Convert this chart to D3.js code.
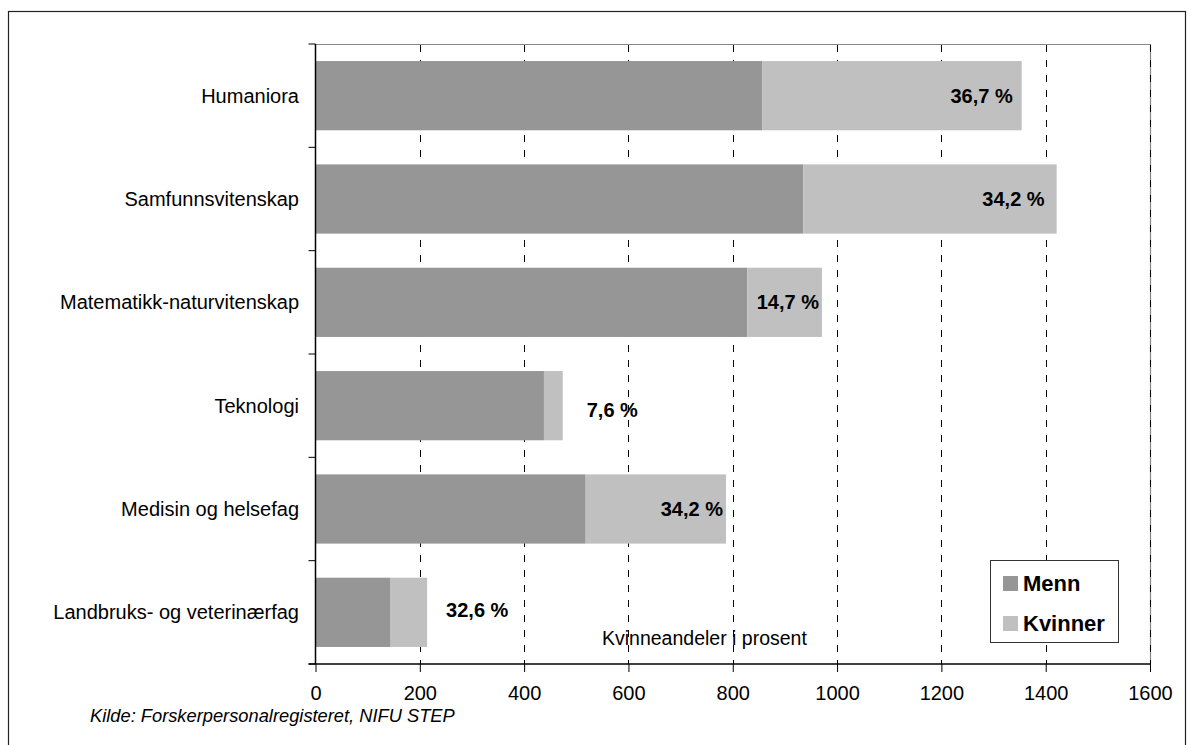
<!DOCTYPE html>
<html>
<head>
<meta charset="utf-8">
<script src="https://cdn.jsdelivr.net/npm/d3@7"></script>
<style>
  html, body { margin: 0; padding: 0; background: #fff; }
  svg { display: block; font-family: "Liberation Sans", Arial, Helvetica, sans-serif; }
</style>
</head>
<body>
<svg id="chart" width="1193" height="745"></svg>
<script>
// Forskere fordelt på fagområde og kjønn
const categories = [
  "Humaniora",
  "Samfunnsvitenskap",
  "Matematikk-naturvitenskap",
  "Teknologi",
  "Medisin og helsefag",
  "Landbruks- og veterinærfag"
];
const menn    = [857, 935, 828, 438, 518, 144];
const kvinner = [497, 486, 143,  36, 269,  70];
const kvinneandel = ["36,7 %", "34,2 %", "14,7 %", "7,6 %", "34,2 %", "32,6 %"];
const seriesNames = ["Menn", "Kvinner"];
const xTicks = [0, 200, 400, 600, 800, 1000, 1200, 1400, 1600];
const noteText = "Kvinneandeler i prosent";
const sourceText = "Kilde: Forskerpersonalregisteret, NIFU STEP";

// layout
const W = 1193, H = 745;
const plot = { left: 315.5, right: 1150, top: 44, bottom: 664 };
const colors = { Menn: "#969696", Kvinner: "#c0c0c0" };
// label offset from the end of each bar (negative = inside the bar)
const labelDx = [-9, -12, -3, 24, -3, 19];
const labelDy = [7, 7, 7, 11, 7, 5];

const svg = d3.select("#chart");

// outer frame
svg.append("rect")
  .attr("x", 8.5).attr("y", 11.5)
  .attr("width", 1177).attr("height", 760)
  .attr("fill", "none").attr("stroke", "#222").attr("stroke-width", 1.2);

const x = d3.scaleLinear().domain([0, 1600]).range([plot.left, plot.right]);
const y = d3.scaleBand().domain(categories)
  .range([plot.top, plot.bottom])
  .paddingInner(0.33).paddingOuter(0.165);

// plot-area border (top and right)
svg.append("path")
  .attr("d", `M${plot.left},${plot.top + 0.5}H${plot.right + 0.5}V${plot.bottom}`)
  .attr("fill", "none").attr("stroke", "#888").attr("stroke-width", 1.2);

// dashed vertical gridlines
svg.append("g").selectAll("line")
  .data(xTicks.filter(d => d > 0))
  .join("line")
  .attr("x1", d => Math.round(x(d)) + 0.5).attr("x2", d => Math.round(x(d)) + 0.5)
  .attr("y1", plot.top + 1).attr("y2", plot.bottom)
  .attr("stroke", "#000").attr("stroke-width", 1)
  .attr("stroke-dasharray", "7,8");

// stacked bars
const stackData = categories.map((c, i) => ({ cat: c, Menn: menn[i], Kvinner: kvinner[i] }));
const stacked = d3.stack().keys(seriesNames)(stackData);

svg.append("g").selectAll("g")
  .data(stacked)
  .join("g")
  .attr("fill", d => colors[d.key])
  .selectAll("rect")
  .data(d => d)
  .join("rect")
  .attr("x", d => x(d[0]))
  .attr("y", d => y(d.data.cat))
  .attr("width", d => x(d[1]) - x(d[0]))
  .attr("height", y.bandwidth());

// share-of-women labels
svg.append("g").selectAll("text")
  .data(stackData)
  .join("text")
  .attr("x", (d, i) => x(d.Menn + d.Kvinner) + labelDx[i])
  .attr("y", (d, i) => y(d.cat) + y.bandwidth() / 2 + labelDy[i])
  .attr("text-anchor", (d, i) => labelDx[i] < 0 ? "end" : "start")
  .attr("font-size", 20).attr("font-weight", "bold").attr("fill", "#000")
  .text((d, i) => kvinneandel[i]);

// category axis: line, ticks at band boundaries, labels
const step = y.step();
svg.append("line")
  .attr("x1", plot.left).attr("x2", plot.left)
  .attr("y1", plot.top).attr("y2", plot.bottom)
  .attr("stroke", "#000").attr("stroke-width", 1.5);
svg.append("g").selectAll("line")
  .data(d3.range(categories.length + 1))
  .join("line")
  .attr("x1", plot.left - 7).attr("x2", plot.left)
  .attr("y1", i => plot.top + i * step).attr("y2", i => plot.top + i * step)
  .attr("stroke", "#000").attr("stroke-width", 1);
svg.append("g").selectAll("text")
  .data(categories)
  .join("text")
  .attr("x", 299)
  .attr("y", d => y(d) + y.bandwidth() / 2 + 7)
  .attr("text-anchor", "end")
  .attr("font-size", 20).attr("fill", "#000")
  .text(d => d);

// value axis
const xAxis = svg.append("g")
  .attr("transform", `translate(0,${plot.bottom})`)
  .call(d3.axisBottom(x).tickValues(xTicks).tickFormat(d3.format("d"))
    .tickSizeInner(8).tickSizeOuter(0).tickPadding(14));
xAxis.select(".domain").remove();
xAxis.selectAll(".tick line").attr("stroke", "#000");
xAxis.selectAll(".tick text")
  .attr("font-size", 20).attr("fill", "#000")
  .attr("font-family", "'Liberation Sans', Arial, sans-serif");
svg.append("line")
  .attr("x1", plot.left - 7).attr("x2", plot.right + 0.5)
  .attr("y1", plot.bottom).attr("y2", plot.bottom)
  .attr("stroke", "#000").attr("stroke-width", 1.5);

// note inside plot
svg.append("text")
  .attr("x", 602).attr("y", 645)
  .attr("font-size", 19.5).attr("fill", "#000")
  .text(noteText);

// legend
const lg = svg.append("g");
lg.append("rect")
  .attr("x", 990.5).attr("y", 560.5).attr("width", 128).attr("height", 82)
  .attr("fill", "#fff").attr("stroke", "#333").attr("stroke-width", 1);
seriesNames.forEach((name, i) => {
  const yy = 576 + i * 40;
  lg.append("rect")
    .attr("x", 1003).attr("y", yy).attr("width", 15).attr("height", 15)
    .attr("fill", colors[name]);
  lg.append("text")
    .attr("x", 1023).attr("y", yy + 15)
    .attr("font-size", 22).attr("font-weight", "bold").attr("fill", "#000")
    .text(name);
});

// source
svg.append("text")
  .attr("x", 90).attr("y", 722)
  .attr("font-size", 18.3).attr("font-style", "italic").attr("fill", "#000")
  .text(sourceText);
</script>
</body>
</html>
